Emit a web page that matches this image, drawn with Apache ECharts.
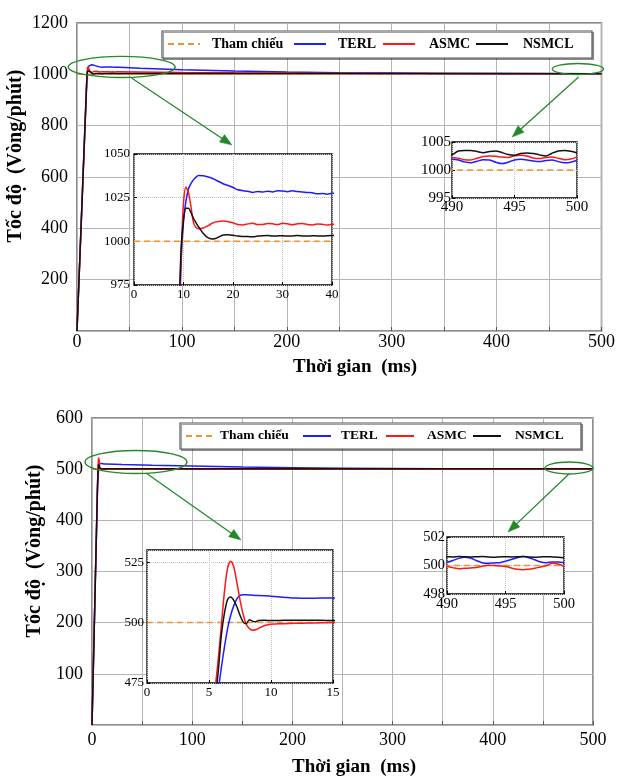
<!DOCTYPE html>
<html><head><meta charset="utf-8">
<script src="https://cdn.jsdelivr.net/npm/echarts@6/dist/echarts.min.js"></script>
<style>html,body{margin:0;padding:0;background:#fff}#c{width:618px;height:778px}</style>
</head><body><div id="c"></div>
<script>
// ---------- data ----------
const seriesNames = ['Tham chiếu', 'TERL', 'ASMC', 'NSMCL'];

const refTime = [0, 500];
const topRef = [1000, 1000];
const botRef = [500, 500];

const topTime = [0, 9, 9.5, 10, 10.5, 11, 11.5, 12, 12.5,
  13, 14, 15, 16, 17, 18, 19, 20, 21, 22, 23, 24, 25, 26, 27, 28, 29, 30, 31, 32, 33, 34, 35, 36, 37, 38, 39, 40,
  60, 80, 100, 150, 200, 250, 300, 350, 400, 450,
  490, 490.5, 491, 491.5, 492, 492.5, 493, 493.5, 494, 494.5, 495, 495.5, 496, 496.5, 497, 497.5, 498, 498.5, 499, 499.5, 500];
const topTERL = [0, 935, 987, 1012, 1023, 1030, 1033, 1035.2, 1036.6,
  1037.7, 1037.5, 1036.8, 1035.8, 1034.4, 1033, 1032, 1030.8, 1029.5, 1029, 1028.7, 1028, 1028.6, 1028.2, 1028.7, 1028.3, 1028.9, 1028.8, 1028.4, 1028.9, 1028.5, 1028.3, 1028, 1027.8, 1027.2, 1027.4, 1027, 1027.5,
  1024, 1021, 1018, 1013, 1009, 1006.5, 1004.8, 1003.6, 1002.8, 1002.2,
  1001.9, 1001.8, 1001.45, 1001.3, 1001.55, 1001.85, 1001.8, 1001.4, 1001.15, 1001.4, 1001.8, 1001.9, 1001.8, 1001.6, 1001.5, 1001.7, 1001.8, 1001.5, 1001.3, 1001.4, 1001.7];
const topASMC = [0, 950, 990, 1022, 1031, 1028, 1020, 1011, 1008,
  1007.2, 1007.6, 1009, 1010.6, 1011.3, 1011.6, 1011.2, 1010.6, 1009.6, 1009.4, 1010, 1010.3, 1009.6, 1009.6, 1010.2, 1010, 1009.6, 1010.3, 1010, 1009.5, 1010, 1010.2, 1009.6, 1009.4, 1009.9, 1009.8, 1009.3, 1009.8,
  1009, 1008.2, 1007.5, 1006, 1005, 1004.2, 1003.6, 1003.1, 1002.7, 1002.4,
  1002.25, 1002.1, 1001.85, 1001.8, 1002.1, 1002.4, 1002.5, 1002.45, 1002.3, 1002.25, 1002.55, 1002.65, 1002.5, 1002.15, 1002.05, 1002.25, 1002.3, 1002.1, 1001.85, 1001.95, 1002.35];
const topNSMCL = [0, 945, 995, 1012, 1019, 1019, 1016.5, 1013.2, 1010.8,
  1008.5, 1004.5, 1002, 1001.3, 1002.3, 1003.6, 1003.8, 1003.5, 1003, 1002.8, 1002.7, 1002.6, 1003, 1003.2, 1003.3, 1003, 1003.1, 1003.2, 1003, 1003.1, 1003.3, 1003.1, 1003, 1003.2, 1003.1, 1003, 1003.2, 1003.3,
  1003.3, 1003.2, 1003.2, 1003.1, 1003.1, 1003, 1003, 1002.9, 1002.9, 1002.8,
  1002.75, 1003.4, 1003.5, 1003.5, 1003.3, 1003.1, 1003.3, 1003.4, 1003.1, 1002.75, 1002.65, 1002.95, 1003.05, 1002.95, 1002.7, 1002.5, 1003.0, 1003.4, 1003.5, 1003.35, 1003.05];

const botTime = [0, 5.5, 5.75, 6, 6.25, 6.5, 6.75, 7, 7.25, 7.5, 7.75, 8, 8.25, 8.5, 8.75, 9, 9.5, 10, 11, 12, 13, 14, 15,
  30, 60, 100, 150, 200, 250, 300, 350, 400, 450,
  490, 490.5, 491, 491.5, 492, 492.5, 493, 493.5, 494, 494.5, 495, 495.5, 496, 496.5, 497, 497.5, 498, 498.5, 499, 499.5, 500];
const botTERL = [0, 462, 472, 481.5, 490, 497.5, 503, 507, 509.8, 511.2, 511.5, 511.5, 511.4, 511.3, 511.2, 511.2, 511.1, 510.9, 510.5, 510.1, 510, 510.1, 510.1,
  509, 507.5, 506, 504.3, 503, 502, 501.4, 500.9, 500.6, 500.4,
  500.23, 500.35, 500.5, 500.58, 500.52, 500.35, 500.2, 500.15, 500.18, 500.2, 500.3, 500.42, 500.55, 500.63, 500.55, 500.4, 500.25, 500.2, 500.25, 500.25, 500.2];
const botASMC = [0, 472, 485, 499, 513, 522.5, 525.3, 523, 516.5, 509.4, 503.5, 499.4, 497.5, 496.8, 497, 497.6, 498.8, 499.3, 499.5, 499.7, 499.8, 499.9, 500,
  500, 500, 500, 500, 500, 500, 499.98, 499.95, 499.95, 499.93,
  499.93, 499.85, 499.77, 499.8, 499.83, 499.86, 499.95, 500.02, 500.0, 499.97, 499.93, 499.83, 499.73, 499.7, 499.74, 499.8, 499.9, 500.0, 500.15, 500.1, 499.93];
const botNSMCL = [0, 467, 480, 495, 504, 509.5, 510.6, 509.2, 506.5, 503, 500.3, 499.5, 501.2, 500.6, 500.3, 500.8, 500.9, 500.8, 500.9, 501, 500.9, 500.9, 500.8,
  500.8, 500.75, 500.7, 500.7, 500.68, 500.65, 500.65, 500.63, 500.62, 500.62,
  500.62, 500.6, 500.63, 500.62, 500.6, 500.61, 500.63, 500.6, 500.58, 500.6, 500.62, 500.6, 500.61, 500.63, 500.6, 500.58, 500.6, 500.62, 500.6, 500.58, 500.55];

// axis ranges [min, max, interval]
const axesX = [[0, 500, 50], [0, 40, 10], [490, 500, 5], [0, 500, 50], [0, 15, 5], [490, 500, 5]];
const axesY = [[0, 1200, 200], [975, 1050, 25], [995, 1005, 5], [0, 600, 100], [475, 530, 25], [498, 502, 2]];

// ---------- styles ----------
const FF = '"Liberation Serif", "Times New Roman", serif';
const colors = ['#f0922e', '#1d1dff', '#ff1616', '#111111'];
const gridBoxes = [
  {left: 77, top: 23, width: 528, height: 308, main: true},
  {left: 134, top: 154, width: 198, height: 131},
  {left: 452, top: 142, width: 125, height: 56},
  {left: 92, top: 418, width: 501, height: 307, main: true},
  {left: 147, top: 550, width: 186, height: 133},
  {left: 447, top: 537, width: 117, height: 57}
];
const labelFont = [18, 13, 15, 18, 13, 14.5];
const yMargin = [9, 4, 1, 9, 3, 2];
const xMargin = [2, 3, 2, 6, 3, 3];

const grids = gridBoxes.map(b => ({
  left: b.left, top: b.top, width: b.width, height: b.height, show: true,
  backgroundColor: '#fff',
  borderColor: b.main ? '#6a6a6a' : '#000',
  borderWidth: b.main ? 1.5 : 1.3,
  z: b.main ? 0 : 10
}));

const xAxes = axesX.map((a, i) => {
  const main = !!gridBoxes[i].main;
  return {
    type: 'value', gridIndex: i, min: a[0], max: a[1], interval: a[2], z: main ? 0 : 11,
    axisLine: {show: false},
    axisTick: {show: true, inside: true, length: main ? 4 : 3, lineStyle: {color: main ? '#555' : '#000'}},
    axisLabel: {fontSize: labelFont[i], fontFamily: FF, color: '#000', margin: xMargin[i],
      formatter: main ? (v => (v % 100 === 0 ? String(v) : '')) : (v => String(v))},
    splitLine: {show: true, lineStyle: main ? {color: '#b4b4b4', width: 1} : {color: '#c4c4c4', width: 1, type: 'dotted'}}
  };
});
const yAxes = axesY.map((a, i) => {
  const main = !!gridBoxes[i].main;
  return {
    type: 'value', gridIndex: i, min: a[0], max: a[1], interval: a[2], z: main ? 0 : 11,
    axisLine: {show: false},
    axisTick: {show: !main, inside: true, length: 3, lineStyle: {color: '#000'}},
    axisLabel: {fontSize: labelFont[i], fontFamily: FF, color: '#000', margin: yMargin[i],
      showMinLabel: !main, showMaxLabel: i !== 4, formatter: v => String(v)},
    splitLine: {show: true, lineStyle: main ? {color: '#b4b4b4', width: 1} : {color: '#c4c4c4', width: 1, type: 'dotted'}}
  };
});

function mk(nameIdx, g, time, vals) {
  const main = !!gridBoxes[g].main;
  return {
    type: 'line', name: seriesNames[nameIdx], xAxisIndex: g, yAxisIndex: g,
    data: time.map((t, k) => [t, vals[k]]),
    symbol: 'none', showSymbol: false, clip: true, smooth: main ? false : 0.3,
    z: main ? 2 : 12, silent: true,
    lineStyle: {color: colors[nameIdx], width: 1.5, type: nameIdx === 0 ? [6, 4] : 'solid'},
    itemStyle: {color: colors[nameIdx]}
  };
}
const series = [];
[0, 1, 2].forEach(g => {
  series.push(mk(0, g, refTime, topRef), mk(1, g, topTime, topTERL), mk(2, g, topTime, topASMC), mk(3, g, topTime, topNSMCL));
});
[3, 4, 5].forEach(g => {
  series.push(mk(0, g, refTime, botRef), mk(1, g, botTime, botTERL), mk(2, g, botTime, botASMC), mk(3, g, botTime, botNSMCL));
});

// legend item placement: one legend component per entry
const legendLayouts = [
  {top: 37, iw: 32, fs: 14, lefts: [167, 293, 382, 475], padL: [7, 7, 9, 10]},
  {top: 429, iw: 28, fs: 13.5, lefts: [185, 302, 385, 472], padL: [1, 5, 8, 9]}
];
const legendBoxes = [
  {x: 162, y: 31, w: 430, h: 27},
  {x: 180, y: 423, w: 401, h: 26}
];
const legends = [];
legendLayouts.forEach(L => {
  seriesNames.forEach((n, i) => {
    legends.push({
      left: L.lefts[i], top: L.top, padding: 0, itemWidth: L.iw, itemHeight: 14,
      selectedMode: false, z: 7,
      itemStyle: {opacity: 0, color: 'rgba(0,0,0,0)', borderWidth: 0},
      lineStyle: {width: 2, opacity: 1},
      textStyle: {fontFamily: FF, fontWeight: 'bold', fontSize: L.fs, color: '#000', padding: [0, 0, 0, L.padL[i]]},
      data: [n]
    });
  });
});

const option = {
  animation: false,
  backgroundColor: '#fff',
  textStyle: {fontFamily: FF},
  grid: grids,
  xAxis: xAxes,
  yAxis: yAxes,
  legend: legends,
  series: series
};

const chart = echarts.init(document.getElementById('c'), null, {renderer: 'canvas'});
chart.setOption(option);

// ---------- titles, legend frames & zoom callouts ----------
const titles = [
  {text: 'Tốc độ  (Vòng/phút)', x: 16, y: 156, rot: Math.PI / 2, fs: 20},
  {text: 'Thời gian  (ms)', x: 355, y: 367, rot: 0, fs: 19},
  {text: 'Tốc độ  (Vòng/phút)', x: 35, y: 551, rot: Math.PI / 2, fs: 20},
  {text: 'Thời gian  (ms)', x: 354, y: 767, rot: 0, fs: 19}
];
const callouts = [
  {grid: 0, center: [42.6, 1028.6], radius: [51, 41], from: [52, 985.7], to: [147.7, 724.7]},
  {grid: 0, center: [477.5, 1020.8], radius: [24.5, 21.4], from: [478.2, 989.6], to: [414.8, 755.8]},
  {grid: 3, center: [43.9, 514], radius: [50.9, 22.5], from: [53.9, 492.5], to: [148.7, 361.6]},
  {grid: 3, center: [476, 502.3], radius: [24, 11.7], from: [476, 490.6], to: [415.2, 377.2]}
];
const GREEN = '#23892a';
const elements = [];
legendBoxes.forEach(b => {
  elements.push({type: 'rect', z: 6, shape: {x: b.x, y: b.y, width: b.w, height: b.h},
    style: {fill: '#fff', stroke: '#555', lineWidth: 1.2,
      shadowColor: 'rgba(0,0,0,0.35)', shadowOffsetX: 1.5, shadowOffsetY: 1.5, shadowBlur: 0}});
});
titles.forEach(t => {
  elements.push({type: 'text', x: t.x, y: t.y, rotation: t.rot, z: 20,
    style: {text: t.text, fontFamily: FF, fontWeight: 'bold', fontSize: t.fs, fill: '#000',
      align: 'center', verticalAlign: 'middle', textAlign: 'center', textVerticalAlign: 'middle'}});
});
const P = (g, p) => chart.convertToPixel({gridIndex: g}, p);
callouts.forEach(c => {
  const cp = P(c.grid, c.center);
  const rx = P(c.grid, [c.center[0] + c.radius[0], c.center[1]])[0] - cp[0];
  const ry = cp[1] - P(c.grid, [c.center[0], c.center[1] + c.radius[1]])[1];
  elements.push({type: 'ellipse', z: 5, shape: {cx: cp[0], cy: cp[1], rx: rx, ry: ry},
    style: {fill: 'none', stroke: GREEN, lineWidth: 1.3}});
  const a = P(c.grid, c.from), b = P(c.grid, c.to);
  const dx = b[0] - a[0], dy = b[1] - a[1], L = Math.hypot(dx, dy);
  const ux = dx / L, uy = dy / L, nx = -uy, ny = ux;
  const hl = 12, hw = 4.5;
  const bx = b[0] - ux * hl, by = b[1] - uy * hl;
  elements.push({type: 'line', z: 5, shape: {x1: a[0], y1: a[1], x2: bx + ux * 2, y2: by + uy * 2},
    style: {stroke: GREEN, lineWidth: 1.3}});
  elements.push({type: 'polygon', z: 5,
    shape: {points: [[b[0], b[1]], [bx + nx * hw, by + ny * hw], [bx - nx * hw, by - ny * hw]]},
    style: {fill: GREEN, stroke: GREEN, lineWidth: 0.5}});
});
chart.setOption({graphic: {elements: elements}});
</script>
</body></html>
